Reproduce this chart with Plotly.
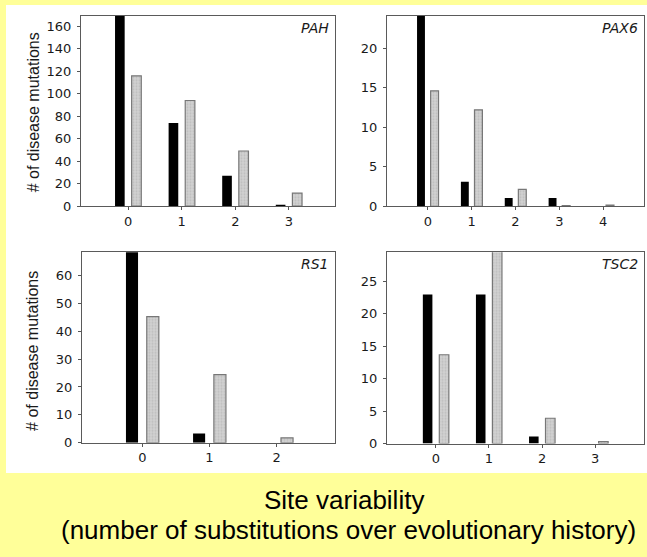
import plotly.graph_objects as go

W, H = 647, 557

# ---------------- data ----------------
genes = ["PAH", "PAX6", "RS1", "TSC2"]
pah_cats = [0, 1, 2, 3]
pah_black = [170, 74, 27, 1]
pah_gray = [116, 94, 49, 11.5]

pax6_cats = [0, 1, 2, 3, 4]
pax6_black = [24.5, 3.1, 1.05, 1.05, 0]
pax6_gray = [14.6, 12.2, 2.15, 0.1, 0.15]

rs1_cats = [0, 1, 2]
rs1_black = [69, 3.3, 0]
rs1_gray = [45.2, 24.4, 1.8]

tsc2_cats = [0, 1, 2, 3]
tsc2_black = [23, 23, 1.1, 0]
tsc2_gray = [13.7, 30, 3.9, 0.3]

y_ticks_pah = [0, 20, 40, 60, 80, 100, 120, 140, 160]
y_ticks_pax6 = [0, 5, 10, 15, 20]
y_ticks_rs1 = [0, 10, 20, 30, 40, 50, 60]
y_ticks_tsc2 = [0, 5, 10, 15, 20, 25]

ytitle = "# of disease mutations"
xtitle_1 = "Site variability"
xtitle_2 = "(number of substitutions over evolutionary history)"

YELLOW = "#FFFF99"
FONT = "Liberation Sans, Arial, sans-serif"
TFONT = "DejaVu Sans, sans-serif"


def xd(a, b):
    return [a / W, b / W]


def yd(top, bottom):
    return [1 - bottom / H, 1 - top / H]


panels = [
    dict(name="PAH", cats=pah_cats, black=pah_black, gray=pah_gray, ticks=y_ticks_pah,
         xdom=xd(81, 335), ydom=yd(16, 209), xr=[-0.88, 3.86], yr=[0, 169.5]),
    dict(name="PAX6", cats=pax6_cats, black=pax6_black, gray=pax6_gray, ticks=y_ticks_pax6,
         xdom=xd(387, 644), ydom=yd(16, 209.3), xr=[-0.93, 4.93], yr=[0, 24.1]),
    dict(name="RS1", cats=rs1_cats, black=rs1_black, gray=rs1_gray, ticks=y_ticks_rs1,
         xdom=xd(82, 335), ydom=yd(256, 449.3), xr=[-0.9, 2.87], yr=[0, 68.2]),
    dict(name="TSC2", cats=tsc2_cats, black=tsc2_black, gray=tsc2_gray, ticks=y_ticks_tsc2,
         xdom=xd(387, 644), ydom=yd(256, 450), xr=[-0.92, 3.92], yr=[0, 29.5]),
]

fig = go.Figure()
layout = dict(
    width=W, height=H, autosize=False,
    margin=dict(l=0, r=0, t=0, b=0),
    paper_bgcolor=YELLOW,
    plot_bgcolor="white",
    showlegend=False,
    barmode="overlay",
    font=dict(family=FONT, color="#1a1a1a", size=13),
)

shapes = [dict(type="rect", xref="paper", yref="paper", x0=6 / W, x1=1.0,
               y0=1 - 480 / H, y1=1 - 5 / H, fillcolor="white", line=dict(width=0),
               layer="below")]
annotations = []

for i, p in enumerate(panels):
    n = i + 1
    xa = "x" if n == 1 else f"x{n}"
    ya = "y" if n == 1 else f"y{n}"
    fig.add_trace(go.Bar(
        x=p["cats"], y=p["black"], xaxis=xa, yaxis=ya,
        width=0.18, offset=-0.245,
        marker=dict(color="black", line=dict(width=0)),
    ))
    fig.add_trace(go.Bar(
        x=p["cats"], y=p["gray"], xaxis=xa, yaxis=ya,
        width=0.18, offset=0.065,
        marker=dict(color="#cfcfcf", line=dict(color="#777", width=1.2),
                    pattern=dict(shape=".", fgcolor="#a8a8a8", bgcolor="#d2d2d2",
                                 size=3, solidity=0.4)),
    ))
    axkey = "xaxis" if n == 1 else f"xaxis{n}"
    aykey = "yaxis" if n == 1 else f"yaxis{n}"
    layout[axkey] = dict(
        domain=p["xdom"], range=p["xr"], anchor=ya,
        tickmode="array", tickvals=p["cats"], ticktext=[str(c) for c in p["cats"]],
        showgrid=False, zeroline=False, showline=True, mirror=True,
        linecolor="#5a5a5a", linewidth=1, ticks="outside", ticklen=3, tickcolor="#555",
        tickfont=dict(size=13, family=TFONT, color="#1a1a1a"),
    )
    layout[aykey] = dict(
        domain=p["ydom"], range=p["yr"], anchor=xa,
        tickmode="array", tickvals=p["ticks"],
        showgrid=False, zeroline=False, showline=True, mirror=True,
        linecolor="#5a5a5a", linewidth=1, ticks="outside", ticklen=3, tickcolor="#555",
        ticklabelstandoff=3,
        tickfont=dict(size=13, family=TFONT, color="#1a1a1a"),
    )
    annotations.append(dict(
        text="<i>" + p["name"] + "</i>", xref="paper", yref="paper",
        x=(p["xdom"][1] * W - 4) / W, y=p["ydom"][1] - 12 / H,
        xanchor="right", yanchor="middle", showarrow=False,
        font=dict(size=14, family=TFONT, color="#1a1a1a"),
    ))

# y-axis titles
for yc in (114, 356):
    annotations.append(dict(text=ytitle, xref="paper", yref="paper", x=33 / W, y=1 - yc / H,
                            textangle=-90, showarrow=False, xanchor="center", yanchor="middle",
                            font=dict(size=16, family=FONT, color="#1a1a1a")))
# bottom titles
annotations.append(dict(text=xtitle_1, xref="paper", yref="paper", x=344 / W, y=1 - 507 / H,
                        showarrow=False, xanchor="center", yanchor="middle",
                        font=dict(size=26, family=FONT, color="black")))
annotations.append(dict(text=xtitle_2, xref="paper", yref="paper", x=348 / W, y=1 - 538 / H,
                        showarrow=False, xanchor="center", yanchor="middle",
                        font=dict(size=26, family=FONT, color="black")))

layout["shapes"] = shapes
layout["annotations"] = annotations
fig.update_layout(**layout)
fig.write_html("out.html",
               config={"displayModeBar": False, "responsive": False},
               post_script="document.body.style.margin='0';document.body.style.overflow='hidden';")
